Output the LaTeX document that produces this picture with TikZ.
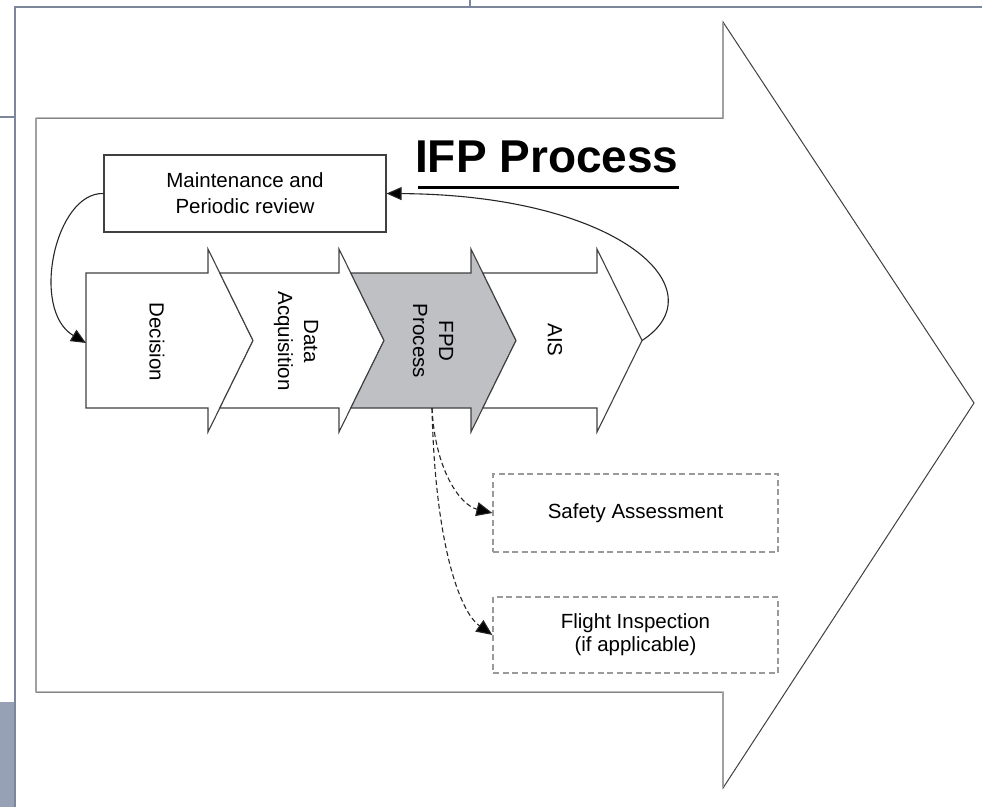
\documentclass[tikz,border=0pt]{standalone}
\usepackage{fontspec}
\setmainfont{Liberation Sans}
\usetikzlibrary{arrows.meta}
\definecolor{frameblue}{HTML}{7D879B}
\definecolor{fillblue}{HTML}{97A1B5}
\definecolor{outl}{HTML}{404040}
\definecolor{lightv}{HTML}{A0A0A0}
\definecolor{fpdgray}{HTML}{BFC0C4}
\definecolor{dashgray}{HTML}{9A9A9A}
\tikzset{
  chev/.style={draw=outl, line width=1.1pt, fill=white, line join=miter},
  lbl/.style={font=\fontsize{20.5}{26}\selectfont, align=center, inner sep=0pt},
  solidbox/.style={draw=outl, line width=1.1pt, inner sep=0pt, align=center, font=\fontsize{20.5}{26}\selectfont},
  dashbox/.style={draw=dashgray, line width=1.3pt, dash pattern=on 6pt off 3.5pt, inner sep=0pt, align=center},
  arr/.style={draw=black!85, line width=1.1pt, -{Triangle[length=15pt,width=13pt,fill=black]}},
  darr/.style={draw=black!85, line width=1.1pt, dash pattern=on 5pt off 3pt, -{Triangle[length=16pt,width=14pt,fill=black,sep=0pt]}},
}
\begin{document}
\begin{tikzpicture}[x=1pt,y=-1pt]
\useasboundingbox (0,0) rectangle (982,807);
% slide frame remnants
\fill[fillblue] (0,702) rectangle (15,807);
\draw[frameblue, line width=1.3pt] (15,807) -- (15,7) -- (982,7);
\draw[frameblue, line width=1.3pt] (0,117) -- (15,117);
\draw[frameblue, line width=1.3pt] (470,0) -- (470,7);
% big arrow
\draw[outl, line width=1pt, line join=miter] (36,118) -- (723,118) -- (723,22) -- (974,403) -- (723,788) -- (723,692) -- (36,692) -- cycle;
\draw[lightv, line width=1.4pt] (36,118) -- (36,692);
\draw[lightv, line width=1.4pt] (723,118) -- (723,23);
\draw[lightv, line width=1.4pt] (723,692) -- (723,787);
% title
\node[font=\fontsize{46}{50}\bfseries, inner sep=0pt, anchor=base west] (title) at (415,172) {IFP Process};
\draw[black, line width=3pt] (418,187) -- (title.base east |- 0,187);
% maintenance box
\node[solidbox, minimum width=282pt, minimum height=77pt] (mnt) at (245,193.5) {Maintenance and\\Periodic review};
% chevrons
\draw[chev] (86,273) -- (208,273) -- (208,249) -- (253,340.5) -- (208,432) -- (208,408) -- (86,408) -- cycle;
\draw[chev] (219.8,273) -- (339,273) -- (339,249) -- (384,340.5) -- (339,432) -- (339,408) -- (219.8,408) -- (253,340.5) -- cycle;
\draw[chev, fill=fpdgray] (350.8,273) -- (471,273) -- (471,249) -- (516,340.5) -- (471,432) -- (471,408) -- (350.8,408) -- (384,340.5) -- cycle;
\draw[chev] (482.8,273) -- (597,273) -- (597,249) -- (642,340.5) -- (597,432) -- (597,408) -- (482.8,408) -- (516,340.5) -- cycle;
\node[lbl, rotate=-90] (dec) at (157,342) {Decision};
\node[lbl, rotate=-90] (dat) at (296,341) {Data\\Acquisition};
\node[lbl, rotate=-90] (fpd) at (433,341) {FPD\\Process};
\node[lbl, rotate=-90] (ais) at (555,340) {AIS};
\coordinate (decin) at (86,343);
\coordinate (aistip) at (642,340.5);
\coordinate (fpdb) at (432,408);
% dashed boxes
\node[dashbox, minimum width=285pt, minimum height=78pt, font=\fontsize{20.5}{26}\selectfont] (safe) at (635.5,513) {Safety Assessment};
\node[dashbox, minimum width=285pt, minimum height=76pt, font=\fontsize{20.5}{23}\selectfont] (fli) at (635.5,635) {Flight Inspection\\(if applicable)};
% connectors
\draw[arr] (mnt.west) .. controls (55,192) and (30,310) .. (decin);
\draw[arr] (aistip) .. controls (720,290) and (620,195) .. (mnt.east);
\draw[darr] (fpdb) .. controls (435,470) and (460,505) .. (safe.west);
\draw[darr] (fpdb) .. controls (435,545) and (460,612) .. (fli.west);
\end{tikzpicture}
\end{document}
